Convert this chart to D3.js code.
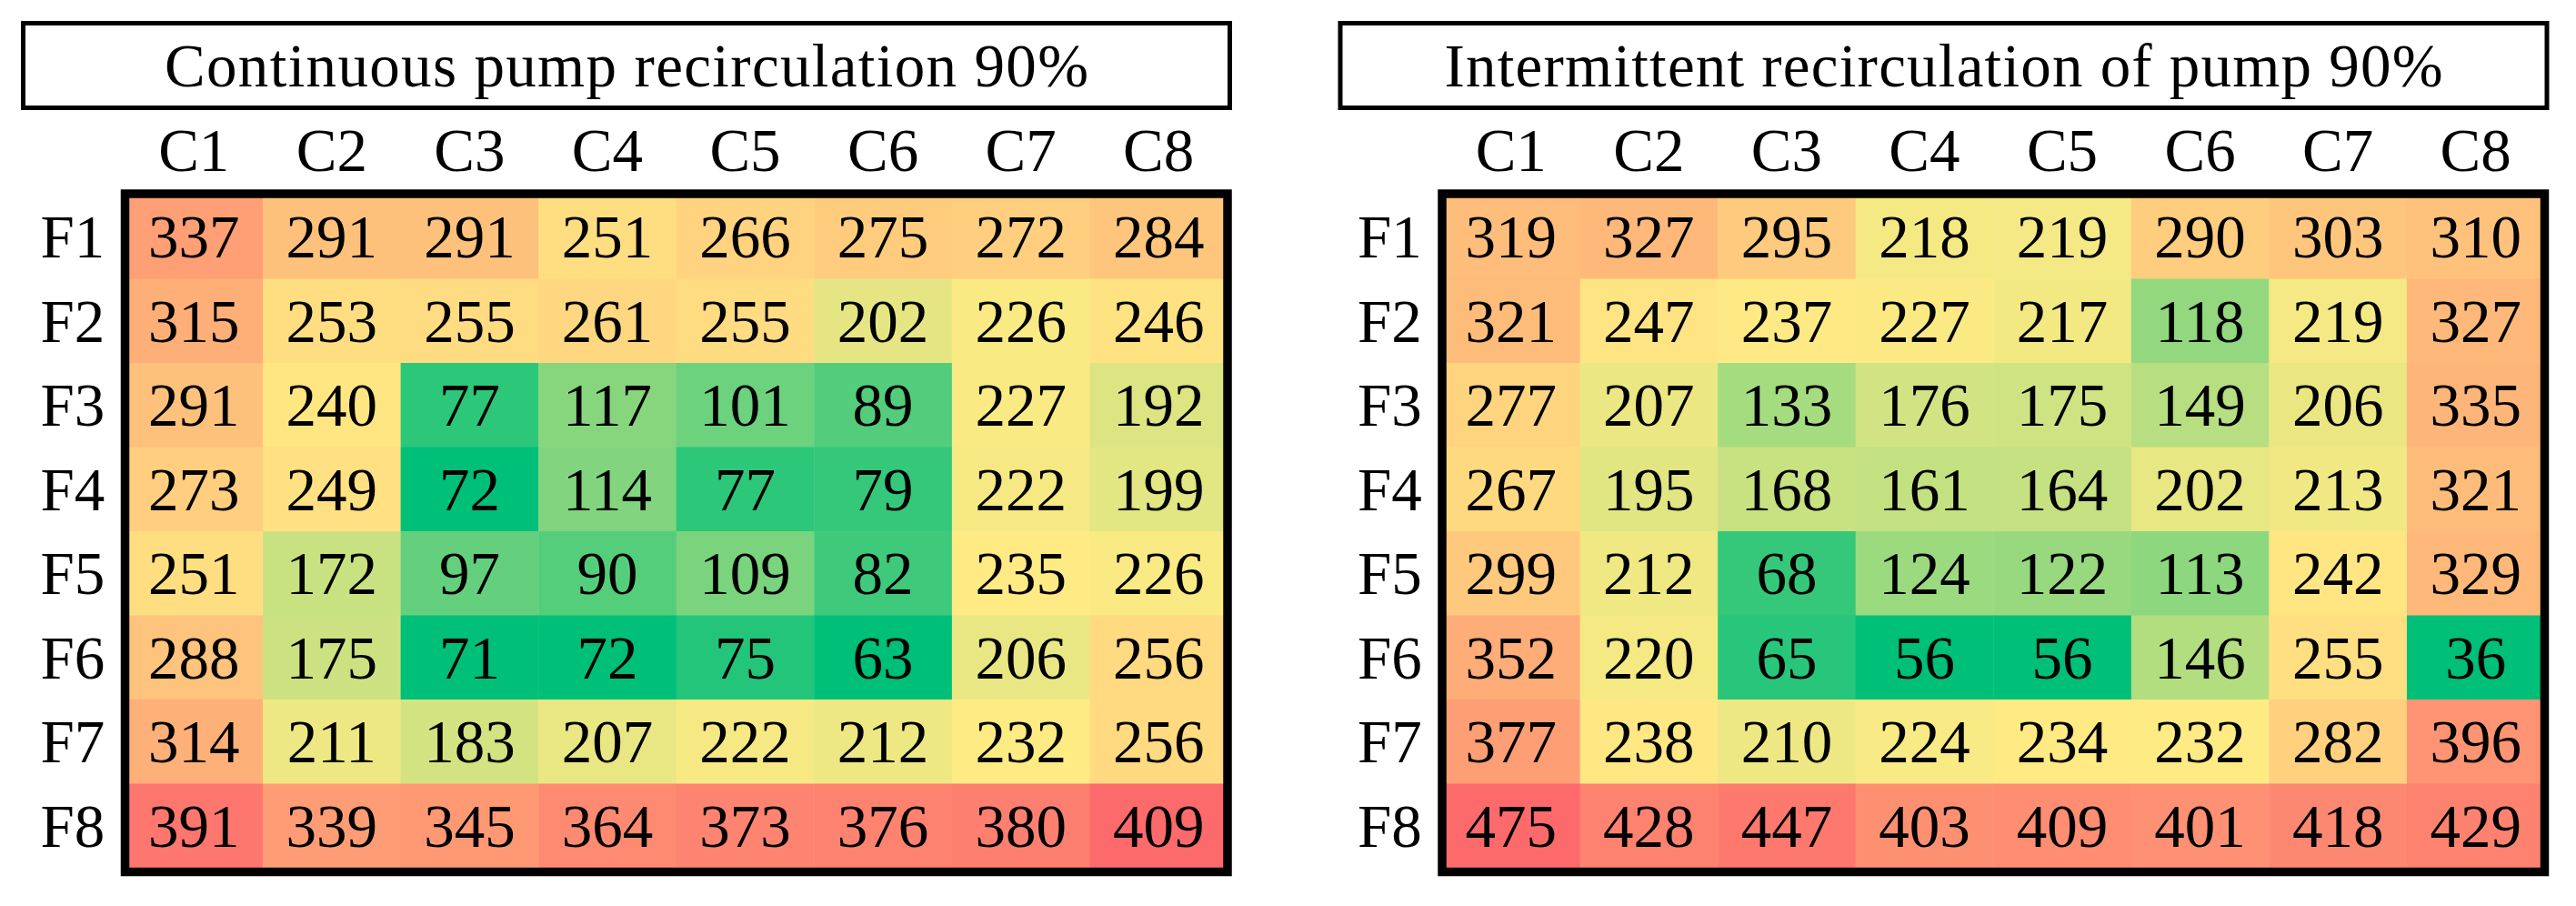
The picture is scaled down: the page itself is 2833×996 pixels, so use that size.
<!DOCTYPE html>
<html>
<head>
<meta charset="utf-8">
<script src="https://cdn.jsdelivr.net/npm/d3@7"></script>
<style>
  html, body { margin: 0; padding: 0; background: #fff; }
  svg { display: block; }
</style>
</head>
<body>
<svg id="chart" width="2833" height="996"></svg>
<script>
// ---- Data ----
const columns = ["C1", "C2", "C3", "C4", "C5", "C6", "C7", "C8"];
const rows = ["F1", "F2", "F3", "F4", "F5", "F6", "F7", "F8"];
const titles = ["Continuous pump recirculation 90%", "Intermittent recirculation of pump 90%"];

const continuousValues = [
  [337, 291, 291, 251, 266, 275, 272, 284],
  [315, 253, 255, 261, 255, 202, 226, 246],
  [291, 240, 77, 117, 101, 89, 227, 192],
  [273, 249, 72, 114, 77, 79, 222, 199],
  [251, 172, 97, 90, 109, 82, 235, 226],
  [288, 175, 71, 72, 75, 63, 206, 256],
  [314, 211, 183, 207, 222, 212, 232, 256],
  [391, 339, 345, 364, 373, 376, 380, 409]
];

const intermittentValues = [
  [319, 327, 295, 218, 219, 290, 303, 310],
  [321, 247, 237, 227, 217, 118, 219, 327],
  [277, 207, 133, 176, 175, 149, 206, 335],
  [267, 195, 168, 161, 164, 202, 213, 321],
  [299, 212, 68, 124, 122, 113, 242, 329],
  [352, 220, 65, 56, 56, 146, 255, 36],
  [377, 238, 210, 224, 234, 232, 282, 396],
  [475, 428, 447, 403, 409, 401, 418, 429]
];

const panels = [
  { title: titles[0], values: continuousValues, offset: 0, titleWidth: 1016 },
  { title: titles[1], values: intermittentValues, offset: 1448.5, titleWidth: 1098 }
];

// ---- Drawing ----
const svg = d3.select("#chart");
const FONT = "'Liberation Serif', 'Times New Roman', serif";
const FS = 67;
const GREEN = "#00bf78", YELLOW = "#ffeb84", RED = "#fd6a6b";

const gx0 = 137.5, gx1 = 1350, gy0 = 214, gy1 = 954;

function makeColor(flat) {
  const sorted = flat.slice().sort(d3.ascending);
  const lo = d3.quantileSorted(sorted, 0.04), mid = d3.median(sorted), hi = d3.max(sorted);
  const tLow = d3.scaleLinear().domain([lo, mid]).range([0, 1]).clamp(true);
  const tHigh = d3.scaleLinear().domain([mid, hi]).range([0, 1]).clamp(true);
  const gy = d3.interpolateRgb(GREEN, YELLOW);
  const yr = d3.interpolateRgb(YELLOW, RED);
  return v => v <= mid ? gy(Math.sqrt(tLow(v))) : yr(tHigh(v));
}

panels.forEach(p => {
  const g = svg.append("g").attr("transform", `translate(${p.offset},0)`);

  const x = d3.scaleBand().domain(columns).range([gx0, gx1]).padding(0);
  const y = d3.scaleBand().domain(rows).range([gy0, gy1]).padding(0);

  const color = makeColor(p.values.flat());

  const cells = [];
  p.values.forEach((r, i) => r.forEach((v, j) => cells.push({ row: rows[i], col: columns[j], v })));

  // cells
  g.selectAll("rect.cell").data(cells).join("rect")
    .attr("class", "cell")
    .attr("x", d => x(d.col))
    .attr("y", d => y(d.row))
    .attr("width", x.bandwidth() + 0.5)
    .attr("height", y.bandwidth() + 0.5)
    .attr("fill", d => color(d.v));

  // values
  g.selectAll("text.val").data(cells).join("text")
    .attr("class", "val")
    .attr("x", d => x(d.col) + x.bandwidth() / 2)
    .attr("y", d => y(d.row) + y.bandwidth() / 2 + 23)
    .attr("text-anchor", "middle")
    .attr("font-family", FONT)
    .attr("font-size", FS)
    .attr("fill", "#000")
    .text(d => d.v);

  // heatmap border
  g.append("rect")
    .attr("x", gx0).attr("y", 213)
    .attr("width", gx1 - gx0).attr("height", 745.5)
    .attr("fill", "none").attr("stroke", "#000").attr("stroke-width", 9.5);

  // column labels
  g.selectAll("text.col").data(columns).join("text")
    .attr("class", "col")
    .attr("x", d => x(d) + x.bandwidth() / 2)
    .attr("y", 188)
    .attr("text-anchor", "middle")
    .attr("font-family", FONT)
    .attr("font-size", FS)
    .text(d => d);

  // row labels
  g.selectAll("text.row").data(rows).join("text")
    .attr("class", "row")
    .attr("x", 80)
    .attr("y", d => y(d) + y.bandwidth() / 2 + 23)
    .attr("text-anchor", "middle")
    .attr("font-family", FONT)
    .attr("font-size", FS)
    .text(d => d);

  // title box
  g.append("rect")
    .attr("x", 25.5).attr("y", 25.5)
    .attr("width", 1327).attr("height", 93)
    .attr("fill", "#fff").attr("stroke", "#000").attr("stroke-width", 5);

  g.append("text")
    .attr("x", 689)
    .attr("y", 95)
    .attr("text-anchor", "middle")
    .attr("font-family", FONT)
    .attr("font-size", FS)
    .attr("textLength", p.titleWidth)
    .attr("lengthAdjust", "spacing")
    .text(p.title);
});
</script>
</body>
</html>
